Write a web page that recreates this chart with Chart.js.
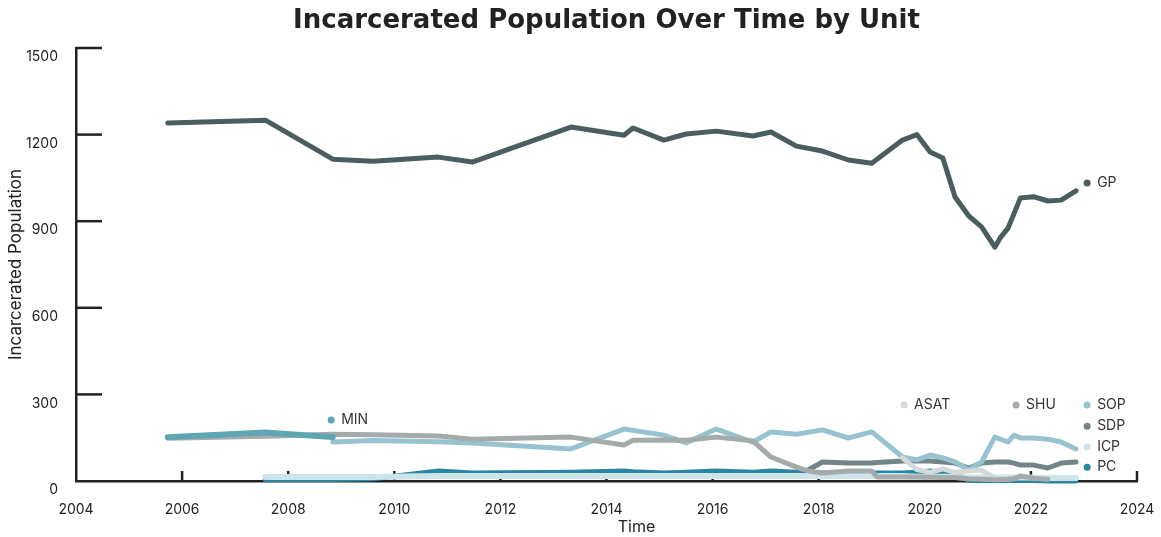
<!DOCTYPE html>
<html>
<head>
<meta charset="utf-8">
<script src="https://cdn.jsdelivr.net/npm/chart.js@4"></script>
<style>
html,body{margin:0;padding:0;background:#ffffff;}
#wrap{width:1161px;height:537px;}
</style>
</head>
<body>
<div id="wrap"><canvas id="c" width="1161" height="537"></canvas></div>
<script>
// ---------- DATA ----------
const dates = [2005.73, 2007.57, 2008.84, 2009.60, 2010.83, 2011.47, 2013.33, 2014.33, 2014.50, 2015.08,
               2015.50, 2016.07, 2016.76, 2017.10, 2017.58, 2017.80, 2018.07, 2018.56, 2019.00, 2019.10,
               2019.58, 2019.85, 2020.10, 2020.34, 2020.57, 2020.83, 2021.07, 2021.32, 2021.42, 2021.57,
               2021.68, 2021.80, 2022.05, 2022.32, 2022.57, 2022.85];

const gpValues   = [1240, 1250, 1115, 1108, 1122, 1105, 1226, 1198, 1223, 1181,
                    1202, 1212, 1195, 1209, 1160, null, 1143, 1112, 1101, null,
                    1181, 1200, 1140, 1119, 984, 918, 880, 810, 842, 876,
                    null, 980, 985, 970, 973, 1005];
const minValues  = [152, 168, 152, null, null, null, null, null, null, null,
                    null, null, null, null, null, null, null, null, null, null,
                    null, null, null, null, null, null, null, null, null, null,
                    null, null, null, null, null, null];
const shuValues  = [148, 155, 162, 160, 156, 145, 152, 125, 141, 142,
                    141, 152, 139, 83, 48, 35, 28, 35, 35, 14,
                    14, 14, 13, 12, 12, 8, 6, 4, 4, 6,
                    8, 17, 10, 5, null, null];
const asatValues = [null, null, null, null, null, null, null, null, null, null,
                    null, null, null, null, null, null, null, null, null, null,
                    80, 40, 30, 42, 30, 35, 38, 10, 8, 5,
                    null, null, null, null, null, null];
const sopValues  = [null, null, 135, 140, 136, 132, 111, 180, null, 159,
                    132, 180, 135, 170, 162, null, 177, 149, 170, null,
                    83, 73, 90, 80, 66, 38, 66, 152, null, 135,
                    159, 149, 149, 145, 135, 111];
const sdpValues  = [null, null, null, null, null, null, null, null, null, null,
                    null, null, null, null, null, 38, 66, 62, 62, 64,
                    69, 70, 69, 66, 62, 45, 62, 66, 66, 66,
                    62, 55, 55, 45, 62, 66];
const icpValues  = [null, 14, 14, 14, 17, 17, 17, 17, 17, 17,
                    17, 17, 17, 17, 17, 17, 17, 17, 17, 17,
                    17, 15, 15, 15, 14, 12, 12, 12, 12, 12,
                    12, 12, 12, 10, 10, 10];
const pcValues   = [null, 5, 5, 8, 35, 28, 30, 35, 32, 28,
                    30, 35, 30, 35, 30, 30, 28, 28, 28, 28,
                    28, 30, 35, 30, 28, 2, 2, 2, 2, 2,
                    2, 2, 2, 0, 0, 0];

const yTicks = [0, 300, 600, 900, 1200, 1500];
const xTicks = [2004, 2006, 2008, 2010, 2012, 2014, 2016, 2018, 2020, 2022, 2024];

// ---------- STYLES ----------
const FONT = 'Inter, "Open Sans", "DejaVu Sans", sans-serif';
const TITLE_FONT = '"DejaVu Sans", Inter, sans-serif';
const INK = '#222222';
const series = [
  {name: 'GP',   values: gpValues,   color: '#4a5e5f', width: 5,   order: 0},
  {name: 'MIN',  values: minValues,  color: '#5fa6b3', width: 6,   order: 1},
  {name: 'SHU',  values: shuValues,  color: '#a5aaab', width: 5,   order: 2},
  {name: 'ASAT', values: asatValues, color: '#d6d9d9', width: 5,   order: 3},
  {name: 'SOP',  values: sopValues,  color: '#96c3cf', width: 5,   order: 4},
  {name: 'SDP',  values: sdpValues,  color: '#738586', width: 5,   order: 5},
  {name: 'ICP',  values: icpValues,  color: '#cde4eb', width: 6,   order: 6},
  {name: 'PC',   values: pcValues,   color: '#2b87a1', width: 5,   order: 7}
];
// label anchors in data units (year, count)
const labelAnchors = {
  GP:   [2023.06, 1032],
  MIN:  [2008.81, 211],
  ASAT: [2019.61, 263],
  SHU:  [2021.72, 263],
  SOP:  [2023.06, 263],
  SDP:  [2023.06, 190],
  ICP:  [2023.06, 118],
  PC:   [2023.06, 48]
};

const datasets = series.map(s => ({
  label: s.name,
  data: dates.map((d, i) => ({x: d, y: s.values[i]})),
  borderColor: s.color,
  backgroundColor: s.color,
  borderWidth: s.width,
  borderCapStyle: 'round',
  borderJoinStyle: 'round',
  pointRadius: 0,
  pointHoverRadius: 0,
  tension: 0,
  spanGaps: true,
  clip: false,
  fill: false,
  order: s.order
}));

const axisMarks = {
  id: 'axisMarks',
  beforeDatasetsDraw(chart) {
    const {ctx, scales: {x, y}} = chart;
    ctx.save();
    ctx.strokeStyle = INK;
    ctx.lineWidth = 2.5;
    yTicks.forEach(v => {
      if (v === 0) return;
      const py = y.getPixelForValue(v);
      ctx.beginPath(); ctx.moveTo(x.left, py); ctx.lineTo(x.left + 26, py); ctx.stroke();
    });
    xTicks.forEach(v => {
      if (v === xTicks[0]) return;
      const px = x.getPixelForValue(v);
      ctx.beginPath(); ctx.moveTo(px, y.bottom); ctx.lineTo(px, y.bottom - 10); ctx.stroke();
    });
    ctx.restore();
  },
  afterDatasetsDraw(chart) {
    const {ctx, scales: {x, y}, chartArea} = chart;
    ctx.save();
    ctx.font = '14px ' + FONT;
    ctx.textBaseline = 'middle';
    ctx.textAlign = 'left';
    series.forEach(s => {
      const a = labelAnchors[s.name];
      const px = x.getPixelForValue(a[0]);
      const py = y.getPixelForValue(a[1]);
      ctx.fillStyle = s.color;
      ctx.beginPath(); ctx.arc(px, py, 3.5, 0, Math.PI * 2); ctx.fill();
      ctx.fillStyle = '#333333';
      ctx.fillText(s.name, px + 10, py);
    });
    // x axis title
    ctx.font = '16px ' + FONT;
    ctx.fillStyle = INK;
    ctx.textAlign = 'center';
    ctx.fillText('Time', (chartArea.left + chartArea.right) / 2 + 30, 527);
    ctx.restore();
  }
};

new Chart(document.getElementById('c'), {
  type: 'line',
  data: {datasets},
  options: {
    responsive: false,
    animation: false,
    devicePixelRatio: 1,
    layout: {padding: {left: 0, right: 24, top: 0, bottom: 0}},
    plugins: {
      legend: {display: false},
      tooltip: {enabled: false},
      title: {
        display: true,
        text: 'Incarcerated Population Over Time by Unit',
        color: INK,
        fullSize: false,
        font: {family: TITLE_FONT, size: 26, weight: 'bold'},
        padding: {top: 6, bottom: 10.8}
      }
    },
    scales: {
      x: {
        type: 'linear',
        min: 2004, max: 2024,
        afterBuildTicks(scale) { scale.ticks = xTicks.map(v => ({value: v})); },
        ticks: {
          callback: v => String(v),
          color: INK,
          font: {family: FONT, size: 14},
          padding: 20,
          maxRotation: 0,
          autoSkip: false
        },
        grid: {display: true, drawOnChartArea: false, drawTicks: false},
        border: {display: true, color: INK, width: 2.5},
        title: {display: false},
        afterFit(scale) { scale.height = 56; scale.paddingLeft = 0; scale.paddingRight = 0; }
      },
      y: {
        type: 'linear',
        min: 0, max: 1500,
        afterBuildTicks(scale) { scale.ticks = yTicks.map(v => ({value: v})); },
        ticks: {
          color: INK,
          font: {family: FONT, size: 14},
          padding: 18,
          labelOffset: 9,
          callback: v => String(v)
        },
        grid: {display: true, drawOnChartArea: false, drawTicks: false},
        border: {display: true, color: INK, width: 2.5},
        title: {
          display: true,
          text: 'Incarcerated Population',
          color: INK,
          font: {family: FONT, size: 17},
          padding: {top: 6, bottom: 0}
        },
        afterFit(scale) { scale.width = 76; scale.paddingTop = 0; scale.paddingBottom = 0; }
      }
    }
  },
  plugins: [axisMarks]
});
</script>
</body>
</html>
